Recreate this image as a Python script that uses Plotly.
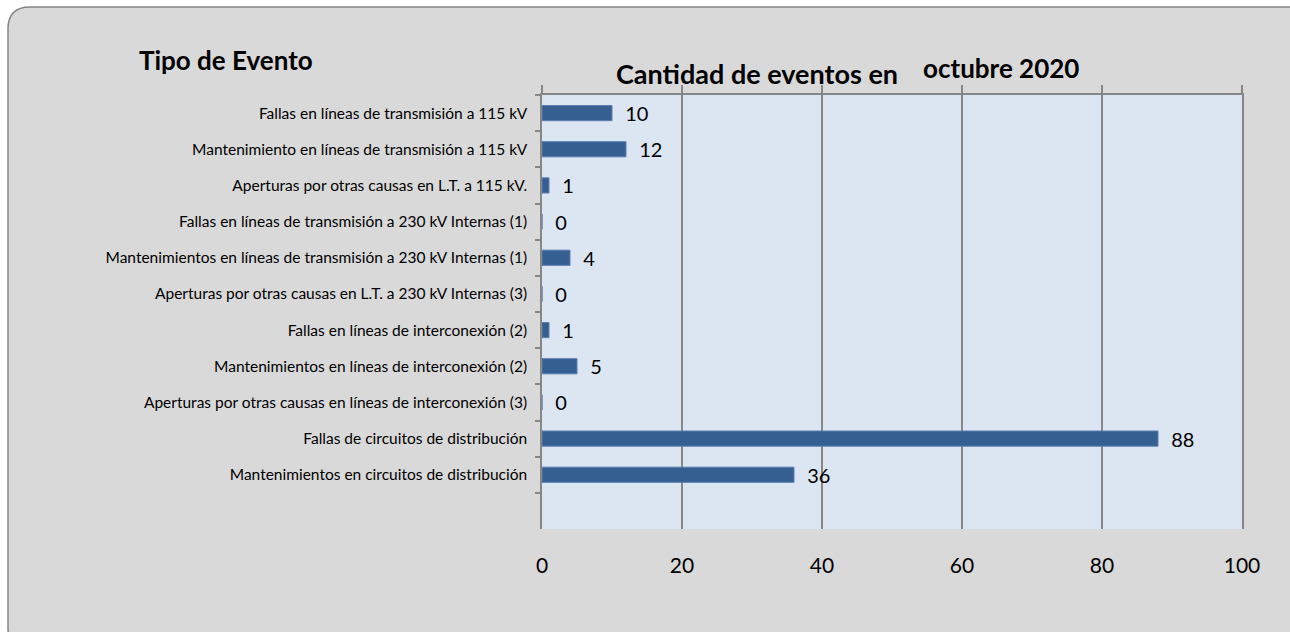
import plotly.graph_objects as go

categories = [
    "Fallas en líneas de transmisión a 115 kV",
    "Mantenimiento en líneas de transmisión a 115 kV",
    "Aperturas por otras causas en L.T. a 115 kV.",
    "Fallas en líneas de transmisión a 230 kV Internas (1)",
    "Mantenimientos en líneas de transmisión a 230 kV Internas (1)",
    "Aperturas por otras causas en L.T. a 230 kV Internas (3)",
    "Fallas en líneas de interconexión (2)",
    "Mantenimientos en líneas de interconexión (2)",
    "Aperturas por otras causas en líneas de interconexión (3)",
    "Fallas de circuitos de distribución",
    "Mantenimientos en circuitos de distribución",
    " ",
]
values = [10, 12, 1, 0, 4, 0, 1, 5, 0, 88, 36, None]
x_ticks = [0, 20, 40, 60, 80, 100]

W, H = 1290, 632
L, R, T, B = 542, 1242, 95, 529


def px(x):
    return (x - L) / (R - L)


def py(y):
    return (B - y) / (B - T)


FONT = "Lato, Carlito, Calibri, sans-serif"

fig = go.Figure()
fig.add_trace(go.Bar(
    x=values, y=categories, orientation="h",
    marker=dict(color="#365f91", line=dict(color="#5a7fb0", width=1)),
    width=0.42,
    text=[("" if v is None else f"  {v}") for v in values],
    textposition="outside",
    constraintext="none",
    textfont=dict(family=FONT, size=20, color="#000000"),
    cliponaxis=False,
    hoverinfo="skip",
))
fig.add_trace(go.Scatter(
    x=values, y=categories, mode="markers", marker=dict(opacity=0),
    xaxis="x2", hoverinfo="skip", showlegend=False,
))

# rounded background panel
x0, x1, y0, y1, r = 8, 1310, 7, 650, 22
path = (
    f"M {px(x0 + r)} {py(y0)} L {px(x1 - r)} {py(y0)} "
    f"Q {px(x1)} {py(y0)} {px(x1)} {py(y0 + r)} "
    f"L {px(x1)} {py(y1 - r)} Q {px(x1)} {py(y1)} {px(x1 - r)} {py(y1)} "
    f"L {px(x0 + r)} {py(y1)} Q {px(x0)} {py(y1)} {px(x0)} {py(y1 - r)} "
    f"L {px(x0)} {py(y0 + r)} Q {px(x0)} {py(y0)} {px(x0 + r)} {py(y0)} Z"
)
fig.add_shape(type="path", path=path, xref="paper", yref="paper",
              fillcolor="#d9d9d9", line=dict(color="#868686", width=1.5),
              layer="below")
# plot area fill
fig.add_shape(type="rect", xref="paper", yref="paper", x0=0, x1=1, y0=0, y1=1,
              fillcolor="#dce6f2", line=dict(width=0), layer="below")

fig.add_annotation(text="<b>Tipo de Evento</b>", x=px(226), y=py(60),
                   xref="paper", yref="paper", showarrow=False,
                   xanchor="center", yanchor="middle",
                   font=dict(family=FONT, size=26, color="#000000"))
fig.add_annotation(text="<b>Cantidad de eventos en</b>", x=px(757), y=py(73),
                   xref="paper", yref="paper", showarrow=False,
                   xanchor="center", yanchor="middle",
                   font=dict(family=FONT, size=27, color="#000000"))
fig.add_annotation(text="<b>octubre 2020</b>", x=px(1001), y=py(68),
                   xref="paper", yref="paper", showarrow=False,
                   xanchor="center", yanchor="middle",
                   font=dict(family=FONT, size=26, color="#000000"))

fig.update_layout(
    width=W, height=H,
    margin=dict(l=L, r=W - R, t=T, b=H - B, pad=0),
    paper_bgcolor="#ffffff",
    plot_bgcolor="#dce6f2",
    showlegend=False,
    font=dict(family=FONT, color="#000000"),
    xaxis=dict(
        range=[0, 100], tickvals=x_ticks, ticktext=[str(t) for t in x_ticks],
        showgrid=True, gridcolor="#868686", gridwidth=1.5,
        zeroline=False, showline=False, ticks="",
        tickfont=dict(family=FONT, size=21, color="#000000"),
        ticklabelstandoff=22,
        fixedrange=True,
    ),
    xaxis2=dict(
        range=[0, 100], tickvals=x_ticks, overlaying="x", side="top",
        anchor="y", showgrid=False, zeroline=False,
        showline=True, linecolor="#868686", linewidth=2,
        ticks="outside", ticklen=8, tickcolor="#868686", tickwidth=1.5,
        showticklabels=False,
    ),
    yaxis=dict(
        categoryorder="array", categoryarray=categories,
        range=[len(categories) - 0.5, -0.5], tickson="boundaries",
        showline=True, mirror=True, linecolor="#868686", linewidth=1.5,
        ticks="outside", ticklen=5, tickcolor="#868686", tickwidth=1.5,
        showgrid=False, zeroline=False,
        tickfont=dict(family=FONT, size=15.5, color="#000000"),
        ticklabelstandoff=10,
    ),
)

fig.write_html("out.html", config={"displayModeBar": False},
               post_script="document.body.style.margin='0';")
